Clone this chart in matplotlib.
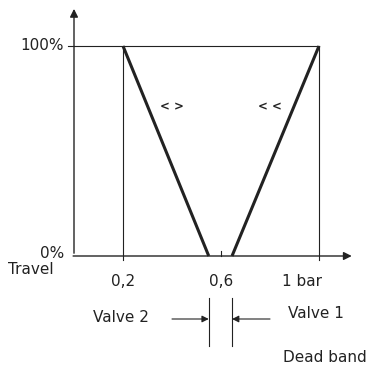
import matplotlib.pyplot as plt

# signal pressure in bar, travel in %
valve2_x = [0.2, 0.55]
valve2_y = [100, 0]
valve1_x = [0.645, 1.0]
valve1_y = [0, 100]
tick_x = [0.2, 0.6, 1.0]
tick_labels = ["0,2", "0,6", "1 bar"]
y_ticks = [0, 100]
y_labels = ["0%", "100%"]

fig = plt.figure(figsize=(3.7, 3.7), dpi=100)
ax = fig.add_axes([0, 0, 1, 1])
ax.set_xlim(-74 / 245, 296 / 245)
ax.set_ylim(-114 / 2.1, 256 / 2.1)
ax.axis("off")

fs = 11
c = "#222222"

# axes with arrows
ax.annotate("", xy=(1.145, 0), xytext=(-0.015, 0),
            arrowprops=dict(arrowstyle="-|>", color=c, lw=1.0, mutation_scale=12))
ax.annotate("", xy=(0, 119), xytext=(0, 0),
            arrowprops=dict(arrowstyle="-|>", color=c, lw=1.0, mutation_scale=12))

# thin frame lines
ax.plot([0, 1.0], [100, 100], color=c, lw=0.8)
ax.plot([-0.025, 0], [100, 100], color=c, lw=0.8)
ax.plot([0.2, 0.2], [-2, 100], color=c, lw=0.8)
ax.plot([1.0, 1.0], [-2, 100], color=c, lw=0.8)
ax.plot([0.6, 0.6], [0, 2.5], color=c, lw=0.8)

# characteristic lines
ax.plot(valve2_x, valve2_y, color=c, lw=2.2, solid_capstyle="butt")
ax.plot(valve1_x, valve1_y, color=c, lw=2.2, solid_capstyle="butt")

ax.text(0.4, 71, "< >", fontsize=8.5, fontweight="bold", ha="center", va="center", color=c)
ax.text(0.8, 71, "< <", fontsize=8.5, fontweight="bold", ha="center", va="center", color=c)

# tick labels
ax.text(-0.04, 100, y_labels[1], fontsize=fs, ha="right", va="center", color=c)
ax.text(-0.04, 1, y_labels[0], fontsize=fs, ha="right", va="center", color=c)
ax.text(-0.085, -6.5, "Travel", fontsize=fs, ha="right", va="center", color=c)
for v, lab in zip(tick_x, tick_labels):
    if lab == "1 bar":
        ax.text(v - 0.15, -12, lab, fontsize=fs, ha="left", va="center", color=c)
    else:
        ax.text(v, -12, lab, fontsize=fs, ha="center", va="center", color=c)

# dead band
ax.plot([valve2_x[1], valve2_x[1]], [-20, -43], color=c, lw=0.8)
ax.plot([valve1_x[0], valve1_x[0]], [-20, -43], color=c, lw=0.8)
ax.annotate("", xy=(valve2_x[1], -30), xytext=(0.4, -30),
            arrowprops=dict(arrowstyle="-|>", color=c, lw=0.8, mutation_scale=10, shrinkA=0, shrinkB=0))
ax.annotate("", xy=(valve1_x[0], -30), xytext=(0.8, -30),
            arrowprops=dict(arrowstyle="-|>", color=c, lw=0.8, mutation_scale=10, shrinkA=0, shrinkB=0))
ax.text(0.077, -29.5, "Valve 2", fontsize=fs, ha="left", va="center", color=c)
ax.text(0.873, -27.5, "Valve 1", fontsize=fs, ha="left", va="center", color=c)
ax.text(0.853, -48.5, "Dead band", fontsize=fs, ha="left", va="center", color=c)

fig.savefig("out.png", dpi=100)
